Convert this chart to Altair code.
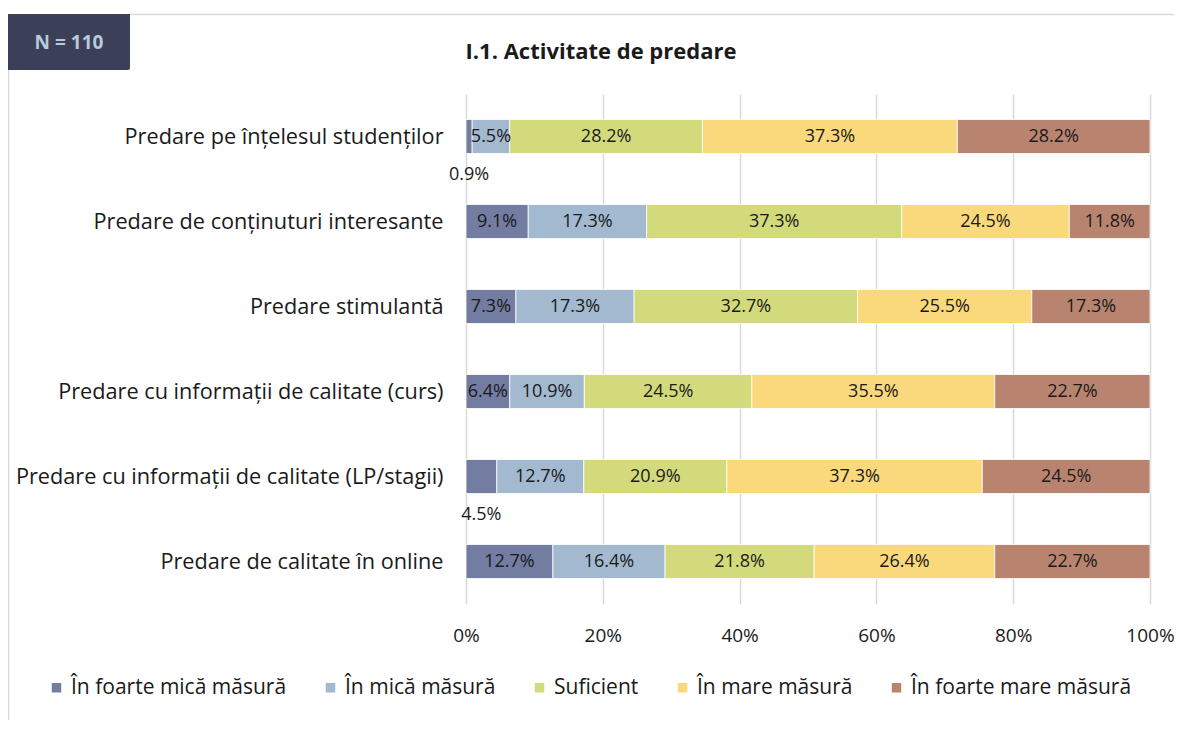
import altair as alt
import pandas as pd

categories = [
    "Predare pe înțelesul studenților",
    "Predare de conținuturi interesante",
    "Predare stimulantă",
    "Predare cu informații de calitate (curs)",
    "Predare cu informații de calitate (LP/stagii)",
    "Predare de calitate în online",
]
levels = [
    "În foarte mică măsură",
    "În mică măsură",
    "Suficient",
    "În mare măsură",
    "În foarte mare măsură",
]
foarte_mica = [0.9, 9.1, 7.3, 6.4, 4.5, 12.7]
mica = [5.5, 17.3, 17.3, 10.9, 12.7, 16.4]
suficient = [28.2, 37.3, 32.7, 24.5, 20.9, 21.8]
mare = [37.3, 24.5, 25.5, 35.5, 37.3, 26.4]
foarte_mare = [28.2, 11.8, 17.3, 22.7, 24.5, 22.7]
x_ticks = [0, 0.2, 0.4, 0.6, 0.8, 1.0]
colors = ["#737CA1", "#A3B9D0", "#D3DA7C", "#FAD97C", "#B9846F"]
title_text = "I.1. Activitate de predare"
n_text = "N = 110"

series = [foarte_mica, mica, suficient, mare, foarte_mare]
rows = []
for li, (lvl, vals) in enumerate(zip(levels, series)):
    for ci, cat in enumerate(categories):
        rows.append({"cat": cat, "level": lvl, "ord": li, "value": vals[ci]})
df = pd.DataFrame(rows)

FONT = "Open Sans"
TXT = "#1a1a1a"

base = alt.Chart(df).transform_joinaggregate(
    total="sum(value)", groupby=["cat"]
).transform_window(
    cum="sum(value)", groupby=["cat"], sort=[alt.SortField("ord")], frame=[None, 0]
).transform_calculate(
    x0="(datum.cum - datum.value) / datum.total",
    x1="datum.cum / datum.total",
    mid="(datum.cum - datum.value / 2) / datum.total",
    label="format(datum.value, '.1f') + '%'",
)

xscale = alt.Scale(domain=[0, 1], nice=False, zero=False)
yscale = alt.Scale(paddingInner=0.6, paddingOuter=0.3)
yaxis = alt.Axis(
    title=None, ticks=False, domain=False, grid=False, labelPadding=23,
    labelFont=FONT, labelFontSize=21.7, labelColor=TXT, labelLimit=700,
)
xaxis = alt.Axis(
    values=x_ticks, format=".0%", title=None, ticks=False, domain=False,
    grid=True, gridColor="#D9D9D9", gridWidth=1.5, labelPadding=22,
    labelFont=FONT, labelFontSize=19, labelColor=TXT, labelFlush=False,
)

bars = base.mark_bar(stroke="white", strokeWidth=0.8).encode(
    x=alt.X("x0:Q", scale=xscale, axis=xaxis),
    x2="x1:Q",
    y=alt.Y("cat:N", sort=categories, scale=yscale, axis=yaxis),
    color=alt.Color(
        "level:N",
        scale=alt.Scale(domain=levels, range=colors),
        sort=levels,
        legend=alt.Legend(
            title=None, orient="none", direction="horizontal",
            legendX=-420, legendY=583, symbolType="square", symbolSize=90,
            symbolStrokeWidth=0, labelFont=FONT, labelFontSize=21,
            labelColor=TXT, columnPadding=33, labelOffset=4, labelLimit=400,
        ),
    ),
    order=alt.Order("ord:Q"),
)

labels_in = base.transform_filter("datum.value >= 5").mark_text(
    font=FONT, fontSize=18, color=TXT
).encode(
    x=alt.X("mid:Q", scale=xscale, axis=xaxis),
    y=alt.Y("cat:N", sort=categories, scale=yscale, axis=yaxis),
    text="label:N",
)

labels_out = base.transform_filter("datum.value < 5").mark_text(
    font=FONT, fontSize=18, color=TXT, dy=38
).encode(
    x=alt.X("mid:Q", scale=xscale, axis=xaxis),
    y=alt.Y("cat:N", sort=categories, scale=yscale, axis=yaxis),
    text="label:N",
)

deco = alt.Chart(pd.DataFrame({"t": [n_text], "title": [title_text]}))
nbox = deco.mark_rect(color="#3B3F58", cornerRadiusBottomRight=2).encode(
    x=alt.value(-458), x2=alt.value(-336), y=alt.value(-80), y2=alt.value(-24)
)
ntext = deco.mark_text(font=FONT, fontSize=19, fontWeight="bold", color="#B9CAD8").encode(
    x=alt.value(-397), y=alt.value(-51), text="t:N"
)
title = deco.mark_text(font=FONT, fontSize=22, fontWeight="bold", color=TXT).encode(
    x=alt.value(135), y=alt.value(-42), text="title:N"
)
top_border = deco.mark_rule(color="#D9D9D9", strokeWidth=1.5).encode(
    x=alt.value(-336), x2=alt.value(740), y=alt.value(-79.5)
)
left_border = deco.mark_rule(color="#D9D9D9", strokeWidth=1.5).encode(
    x=alt.value(-457.5), y=alt.value(-24), y2=alt.value(660)
)

chart = alt.layer(
    top_border, left_border, bars, labels_in, labels_out, nbox, ntext, title
).properties(
    width=684,
    height=510,
    autosize=alt.AutoSizeParams(type="none"),
    padding={"left": 458, "top": 86, "right": 24, "bottom": 116},
    background="white",
).configure_view(strokeWidth=0, stroke="transparent")

chart.save("out.html", embed_options={"renderer": "svg", "actions": False})
